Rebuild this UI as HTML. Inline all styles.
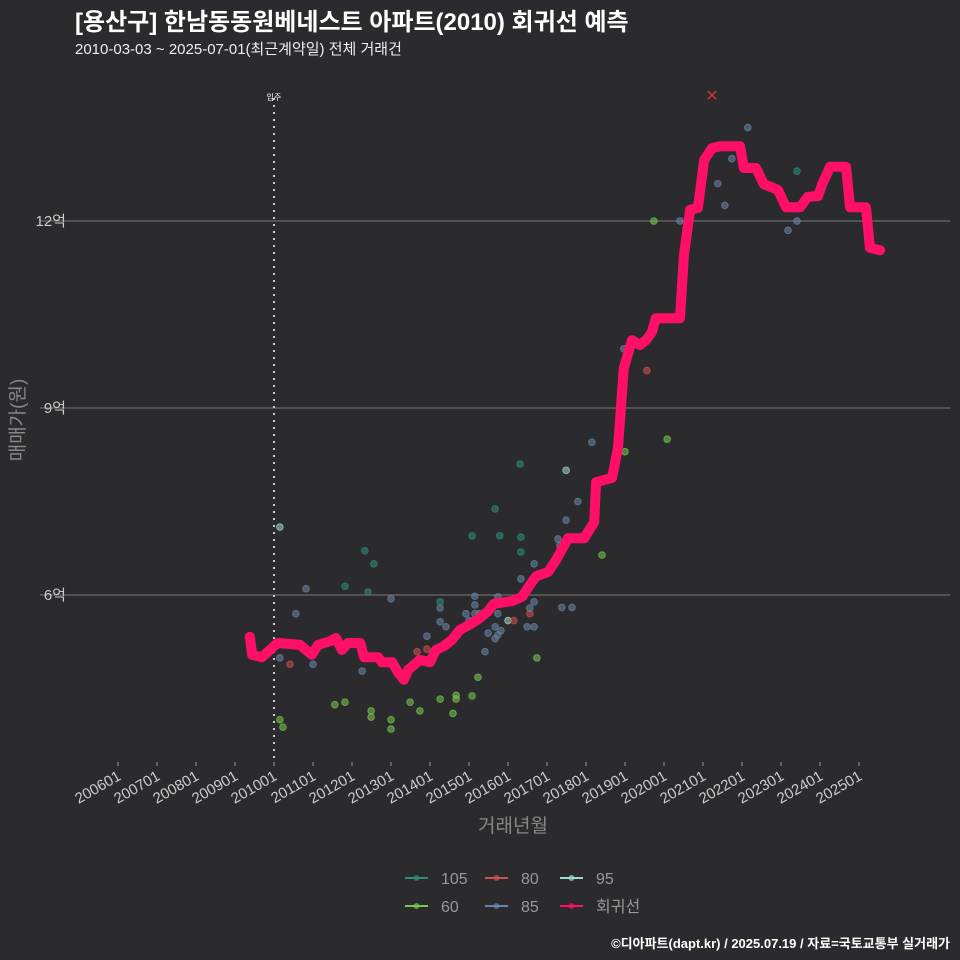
<!DOCTYPE html>
<html><head><meta charset="utf-8">
<style>
body{margin:0;background:#2b2b2d;}
svg{display:block;font-family:"Liberation Sans","Noto Sans CJK KR",sans-serif;}
</style></head>
<body>
<svg id="chart" width="960" height="960" viewBox="0 0 960 960">
<rect width="960" height="960" fill="#2b2b2d"/>
<text x="75" y="30" fill="#fff" font-size="24" font-weight="bold">[용산구] 한남동동원베네스트 아파트(2010) 회귀선 예측</text>
<text x="75" y="54" fill="#eee" font-size="15">2010-03-03 ~ 2025-07-01(최근계약일) 전체 거래건</text>
<g id="grid"></g>
<g id="yticks"></g>
<g id="xticks"></g>
<line x1="274" y1="98" x2="274" y2="762" stroke="#ccc" stroke-width="2" stroke-dasharray="2,5"/>
<text x="274" y="100" fill="#fff" font-size="8" text-anchor="middle">입주</text>
<g id="points"></g>
<path id="reg" fill="none" stroke="#ff1066" stroke-width="10" stroke-linejoin="round" stroke-linecap="round"/>
<text x="712" y="101" fill="#c33" font-size="16" text-anchor="middle">✕</text>
<text transform="translate(24,420) rotate(-90)" fill="#888" font-size="19" text-anchor="middle">매매가(원)</text>
<text x="513" y="832" fill="#888" font-size="19" text-anchor="middle">거래년월</text>
<g id="legend"></g>
<text x="950" y="948" fill="#fff" font-size="13" font-weight="bold" text-anchor="end">©디아파트(dapt.kr) / 2025.07.19 / 자료=국토교통부 실거래가</text>
</svg>
<script>
const yTickVals=[6,9,12];
const yTickLabels=["6억","9억","12억"];
const xTickYears=[2006,2007,2008,2009,2010,2011,2012,2013,2014,2015,2016,2017,2018,2019,2020,2021,2022,2023,2024,2025];
const xTickLabels=["200601","200701","200801","200901","201001","201101","201201","201301","201401","201501","201601","201701","201801","201901","202001","202101","202201","202301","202401","202501"];
const lineYears=[2009.38,2009.44,2009.69,2009.85,2010.0,2010.10,2010.67,2010.97,2011.13,2011.44,2011.59,2011.74,2011.90,2012.21,2012.31,2012.67,2012.77,2013.03,2013.18,2013.33,2013.44,2013.74,2014.0,2014.15,2014.36,2014.56,2014.77,2015.03,2015.28,2015.49,2015.64,2016.10,2016.36,2016.56,2016.72,2017.03,2017.23,2017.54,2017.95,2018.21,2018.26,2018.67,2018.82,2018.97,2019.18,2019.38,2019.54,2019.69,2019.79,2020.41,2020.51,2020.67,2020.87,2021.03,2021.23,2021.44,2021.95,2022.05,2022.36,2022.56,2022.72,2022.92,2023.13,2023.49,2023.69,2023.95,2024.05,2024.26,2024.67,2024.77,2025.18,2025.28,2025.54];
const lineVals=[5.33,5.04,5.0,5.09,5.18,5.23,5.2,5.04,5.2,5.26,5.31,5.12,5.23,5.23,5.0,5.0,4.92,4.92,4.76,4.64,4.8,4.96,4.92,5.12,5.18,5.28,5.44,5.53,5.63,5.74,5.86,5.9,5.97,6.16,6.3,6.37,6.56,6.91,6.91,7.17,7.81,7.88,8.36,9.64,10.09,10.01,10.09,10.22,10.44,10.44,11.45,12.18,12.21,12.98,13.17,13.2,13.2,12.85,12.85,12.59,12.55,12.5,12.22,12.22,12.39,12.4,12.58,12.87,12.87,12.22,12.22,11.57,11.53];
const ptYears=[2010.15,2010.82,2010.56,2010.15,2010.41,2011.0,2012.33,2012.56,2011.82,2012.41,2013.0,2012.26,2011.56,2011.82,2012.49,2012.49,2013.0,2013.0,2010.15,2010.23,2013.67,2013.92,2013.92,2013.49,2013.74,2014.26,2014.67,2014.67,2014.59,2015.08,2015.23,2016.74,2014.26,2014.26,2014.26,2014.41,2015.08,2015.67,2016.33,2016.33,2016.33,2016.67,2015.15,2015.15,2014.92,2015.15,2015.26,2015.0,2015.41,2015.49,2015.67,2015.67,2015.82,2015.74,2015.74,2015.74,2016.0,2016.15,2016.56,2016.67,2016.56,2016.49,2016.67,2016.31,2017.49,2015.79,2017.49,2017.79,2018.15,2018.41,2019.0,2018.97,2019.56,2019.74,2020.08,2020.41,2021.38,2021.56,2021.74,2022.15,2023.18,2023.41,2023.41,2017.28,2017.33,2017.38,2017.64];
const ptVals=[7.09,6.1,5.7,4.99,4.89,4.89,6.71,6.5,6.14,6.05,5.94,4.78,4.24,4.28,4.14,4.04,4.0,3.85,4.0,3.88,5.09,5.13,5.34,4.28,4.14,4.33,4.39,4.33,4.1,4.38,4.68,4.99,5.89,5.79,5.57,5.49,6.95,7.38,6.93,6.69,6.26,6.5,5.98,5.84,5.7,5.7,5.7,5.59,5.09,5.39,5.49,5.3,5.43,5.36,5.97,5.7,5.59,5.59,5.7,5.89,5.79,5.49,5.49,8.1,8.0,6.95,7.2,7.5,8.45,6.64,8.3,9.95,9.6,12.0,8.5,12.0,12.6,12.25,13.0,13.5,11.85,12.0,12.8,6.9,6.8,5.8,5.8];
const ptGroups=["95","85","85","85","80","85","105","105","105","105","85","85","60","60","60","60","60","60","60","60","80","80","85","60","60","60","60","60","60","60","60","60","105","85","85","85","105","105","105","105","85","85","85","85","85","85","85","85","85","85","85","85","85","85","85","85","95","80","80","85","85","85","85","105","95","105","85","85","85","60","60","85","80","60","60","85","85","85","85","85","85","85","105","85","85","85","85"];
const groupColors={"105":"#2e8c7e","80":"#d05050","95":"#9fd8d0","60":"#78c850","85":"#6a85a8"};
const legendKeys=["105","80","95","60","85","회귀선"];
const NS="http://www.w3.org/2000/svg";
function xs(yr){return 274+(yr-2010)*39;}
function ys(v){return 595-(v-6)*62.33;}
const grid=document.getElementById('grid'),yt=document.getElementById('yticks'),xt=document.getElementById('xticks');
yTickVals.forEach((v,i)=>{
 const l=document.createElementNS(NS,'line');
 l.setAttribute('x1',40);l.setAttribute('x2',950);l.setAttribute('y1',ys(v));l.setAttribute('y2',ys(v));
 l.setAttribute('stroke','#6a6a6a');l.setAttribute('stroke-width','1.3');
 
 
 grid.appendChild(l);
 const t=document.createElementNS(NS,'text');
 t.setAttribute('x',66);t.setAttribute('y',ys(v)+5);t.setAttribute('fill','#ccc');t.setAttribute('font-size','15');t.setAttribute('text-anchor','end');
 t.textContent=yTickLabels[i];
 
 
 yt.appendChild(t);
});
xTickYears.forEach((yr,i)=>{
 const x=xs(yr);
 const l=document.createElementNS(NS,'line');
 l.setAttribute('x1',x);l.setAttribute('x2',x);l.setAttribute('y1',762);l.setAttribute('y2',766);l.setAttribute('stroke','#999');
 
 
 xt.appendChild(l);
 const t=document.createElementNS(NS,'text');
 t.setAttribute('transform','translate('+(x+4)+',779) rotate(-30)');
 t.setAttribute('fill','#ccc');t.setAttribute('font-size','15');t.setAttribute('text-anchor','end');
 t.textContent=xTickLabels[i];
 
 
 xt.appendChild(t);
});
const pts=document.getElementById('points');
ptYears.forEach((yr,i)=>{
 const c=document.createElementNS(NS,'circle');
 c.setAttribute('cx',xs(yr));c.setAttribute('cy',ys(ptVals[i]));c.setAttribute('r',3.3);
 c.setAttribute('fill',groupColors[ptGroups[i]]);c.setAttribute('fill-opacity','0.55');
 c.setAttribute('stroke',groupColors[ptGroups[i]]);c.setAttribute('stroke-opacity','0.7');
 
 
 pts.appendChild(c);
});
document.getElementById('reg').setAttribute('d',lineYears.map((yr,i)=>(i?'L':'M')+xs(yr).toFixed(1)+','+ys(lineVals[i]).toFixed(1)).join(' '));
const lg=document.getElementById('legend');
const lpos=[[405,878],[485,878],[560,878],[405,906],[485,906],[560,906]];
legendKeys.forEach((k,i)=>{
 const [x,y]=lpos[i];
 const col=k==='회귀선'?'#ff1066':groupColors[k];
 const g=document.createElementNS(NS,'g');
 
 
 g.innerHTML='<line x1="'+x+'" x2="'+(x+23)+'" y1="'+y+'" y2="'+y+'" stroke="'+col+'" stroke-width="2"/><circle cx="'+(x+11.5)+'" cy="'+y+'" r="3" fill="'+col+'" opacity="0.7"/><text x="'+(x+36)+'" y="'+(y+6)+'" fill="#999" font-size="16">'+k+'</text>';
 lg.appendChild(g);
});
</script>
</body></html>
